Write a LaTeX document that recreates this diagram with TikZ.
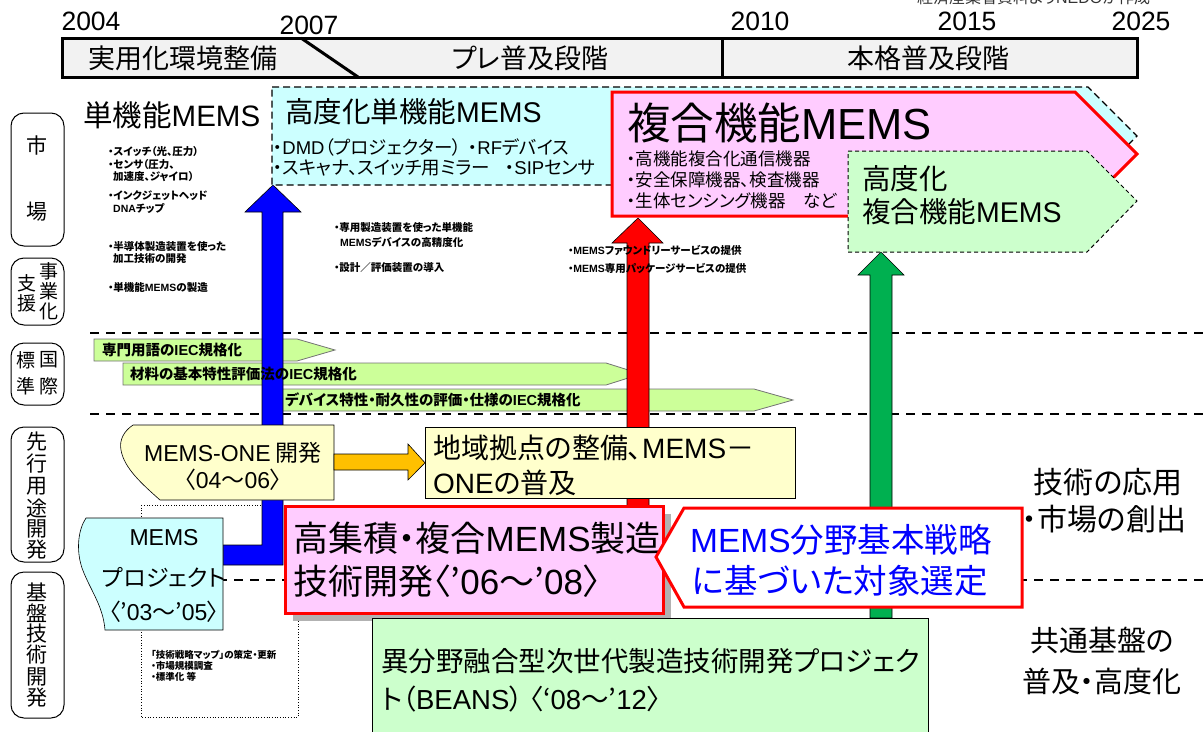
\documentclass[tikz,border=0pt]{standalone}
\usepackage{fontspec}
\setmainfont{Noto Sans CJK JP}[RawFeature=+palt]
\newfontfamily\lat{Liberation Sans}
\newcommand\A[1]{{\lat #1}}
\newcommand\fsz[1]{\fontsize{#1}{#1}\selectfont}
\usetikzlibrary{calc}
\definecolor{hdrgray}{RGB}{242,242,242}
\definecolor{cyanf}{RGB}{204,255,255}
\definecolor{pinkf}{RGB}{255,204,255}
\definecolor{greenf}{RGB}{204,255,204}
\definecolor{iecf}{RGB}{204,255,153}
\definecolor{yellowf}{RGB}{255,255,204}
\definecolor{orangef}{RGB}{255,192,0}
\definecolor{arrgreen}{RGB}{0,176,80}
\definecolor{shadowg}{RGB}{178,178,178}
\begin{document}
\begin{tikzpicture}[x=1pt,y=-1pt,
  t/.style={inner sep=0pt, anchor=west},
  tc/.style={inner sep=0pt},
  sepline/.style={line width=2pt, dash pattern=on 9pt off 7pt},
  lab/.style={draw, line width=1pt, rounded corners=13pt, minimum width=53pt, inner sep=0pt},
  blk/.style={draw=black, line width=0.6pt},
  iec/.style={fill=iecf, draw=black!55, line width=0.8pt},
  small/.style={t, font=\bfseries\fsz{10.5}},
  labch/.style={tc, font=\fsz{21}},
]
\useasboundingbox (0,0) rectangle (1204,731);

% ---------- separators ----------
\draw[sepline] (90,333) -- (1204,333);
\draw[sepline] (90,414) -- (1204,414);
\draw[sepline] (90,580) -- (1204,580);

% dotted frame
\draw[dotted, line width=0.7pt] (141,505) rectangle (298,717);

% ---------- IEC arrows (shapes) ----------
\draw[iec] (94,339) -- (297,339) -- (335,350) -- (297,361) -- (94,361) -- cycle;
\draw[iec] (123,363) -- (606,363) -- (641,374) -- (606,385) -- (123,385) -- cycle;
\draw[iec] (275,389) -- (754,389) -- (793,400) -- (754,411) -- (275,411) -- cycle;

% ---------- vertical arrows ----------
\draw[blk, fill=blue] (223,545) -- (262,545) -- (262,212) -- (245,212) -- (273,185) -- (301,212) -- (283,212) -- (283,565) -- (223,565) -- cycle;
\draw[blk, fill=red] (627,510) -- (627,243) -- (612,243) -- (638,218) -- (663,243) -- (649,243) -- (649,510) -- cycle;
\draw[blk, fill=arrgreen] (870,618) -- (870,275) -- (858,275) -- (881,252) -- (904,275) -- (892,275) -- (892,618) -- cycle;

% ---------- IEC texts ----------
\node[t, font=\bfseries\fsz{14.5}] (iec1) at (102,350) {専門用語の\A{IEC}規格化};
\node[t, font=\bfseries\fsz{14.5}] (iec2) at (130,374) {材料の基本特性評価法の\A{IEC}規格化};
\node[t, font=\bfseries\fsz{14.5}] (iec3) at (285,400) {デバイス特性・耐久性の評価・仕様の\A{IEC}規格化};

% ---------- market boxes ----------
\draw[fill=cyanf, line width=1.2pt, dash pattern=on 7pt off 4pt] (272,87) -- (1088,87) -- (1137,136) -- (1088,185) -- (272,185) -- cycle;
\node[t, font=\fsz{28.5}] (cyT) at (285,112) {高度化単機能\A{MEMS}};
\node[t, font=\fsz{18.5}] (cy1) at (273,147) {・\A{DMD}（プロジェクター）};
\node[t, font=\fsz{18.5}] (cy2) at (468,147) {・\A{RF}デバイス};
\node[t, font=\fsz{18.5}] (cy3) at (273,168) {・スキャナ、スイッチ用ミラー};
\node[t, font=\fsz{18.5}] (cy4) at (505,168) {・\A{SIP}センサ};

\draw[fill=pinkf, draw=red, line width=3pt] (612,92) -- (1075,92) -- (1137,154) -- (1075,216) -- (612,216) -- cycle;
\node[t, font=\fsz{43.5}] (pkT) at (627,123) {複合機能\A{MEMS}};
\node[t, font=\fsz{17.5}] (pk1) at (627,159) {・高機能複合化通信機器};
\node[t, font=\fsz{17.5}] (pk2) at (627,180) {・安全保障機器、検査機器};
\node[t, font=\fsz{17.5}] (pk3) at (627,201) {・生体センシング機器　など};

\draw[fill=greenf, line width=1pt, dash pattern=on 4pt off 3pt] (848,151) -- (1087,151) -- (1137,201) -- (1087,252) -- (848,252) -- cycle;
\node[t, font=\fsz{28.5}] (gr1) at (862,179) {高度化};
\node[t, font=\fsz{28.5}] (gr2) at (862,212) {複合機能\A{MEMS}};

\node[t, font=\fsz{29.5}] (tanki) at (83,115) {単機能\A{MEMS}};

% ---------- process row ----------
\draw[fill=yellowf, line width=0.6pt] (133,425) -- (334,425) -- (334,500) -- (160,500) .. controls (142,484) and (124,468) .. (121,450) .. controls (119,440) and (124,431) .. (133,425) -- cycle;
\coordinate (oneE) at (334,462);
\node[tc, font=\fsz{23}] (one1) at (233,453) {\A{MEMS-ONE} 開発};
\node[tc, font=\fsz{23}] (one2) at (233,480) {〈\A{04}～\A{06}〉};
\node[draw, fill=yellowf, line width=0.6pt, anchor=north west, minimum width=370pt, minimum height=71pt, inner sep=0pt] (chiiki) at (425,427) {};
\draw[blk, fill=orangef] ($(oneE)+(0,-8)$) -- ++(74,0) -- ++(0,-10) -- (chiiki.west) -- ($(oneE)+(74,18)$) -- ++(0,-10) -- ++(-74,0) -- cycle;
\node[t, font=\fsz{28}] (ch1) at (433,448) {地域拠点の整備、\A{MEMS}－};
\node[t, font=\fsz{28}] (ch2) at (433,483) {\A{ONE}の普及};

\draw[fill=cyanf, line width=0.6pt] (86,518) -- (223,518) -- (223,630) -- (105,630) .. controls (103,605) and (90,590) .. (82,568) .. controls (76,550) and (78,530) .. (86,518) -- cycle;
\node[tc, font=\fsz{23}] (mp1) at (164,538) {\A{MEMS}};
\node[tc, font=\fsz{23}] (mp2) at (164,577) {プロジェクト};
\node[tc, font=\fsz{23}] (mp3) at (164,612) {〈’\A{03}～’\A{05}〉};

\fill[shadowg] (293,514) rectangle (671,621);
\node[draw=red, line width=3pt, fill=pinkf, anchor=north west, minimum width=378pt, minimum height=107pt, inner sep=0pt] (koshu) at (284,505) {};
\node[t, font=\fsz{35}] (ko1) at (293,538) {高集積・複合\A{MEMS}製造};
\node[t, font=\fsz{35}] (ko2) at (293,581) {技術開発〈’\A{06}～’\A{08}〉};

\draw[fill=white, draw=red, line width=3pt] (684,508) -- (1022,508) -- (1022,607) -- (684,607) -- (656,557) -- cycle;
\node[t, font=\fsz{33.5}, text=blue] (cl1) at (690,540) {\A{MEMS}分野基本戦略};
\node[t, font=\fsz{33.5}, text=blue] (cl2) at (692,581) {に基づいた対象選定};

\draw[fill=greenf, line width=0.8pt] (372,618) rectangle (928,740);
\node[t, font=\fsz{27.5}] (be1) at (381,661) {異分野融合型次世代製造技術開発プロジェク};
\node[t, font=\fsz{27.5}] (be2) at (381,699) {ト（\A{BEANS}） 〈‘\A{08}～’\A{12}〉};

% ---------- small texts ----------
\node[small] (s1) at (108,152) {・スイッチ（光、圧力）};
\node[small] (s2) at (108,165) {・センサ（圧力、};
\node[small] (s3) at (113,177) {加速度、ジャイロ）};
\node[small] (s4) at (108,196) {・インクジェットヘッド};
\node[small] (s5) at (113,208) {\A{DNA}チップ};
\node[small] (s6) at (108,247) {・半導体製造装置を使った};
\node[small] (s7) at (113,259) {加工技術の開発};
\node[small] (s8) at (108,287) {・単機能\A{MEMS}の製造};
\node[small] (s9) at (334,228) {・専用製造装置を使った単機能};
\node[small] (s10) at (340,242) {\A{MEMS}デバイスの高精度化};
\node[small] (s11) at (334,268) {・設計／評価装置の導入};
\node[small] (s12) at (568,250) {・\A{MEMS}ファウンドリーサービスの提供};
\node[small] (s13) at (568,268) {・\A{MEMS}専用パッケージサービスの提供};
\node[t, font=\bfseries\fsz{9.5}] (d1) at (151,655) {「技術戦略マップ」の策定・更新};
\node[t, font=\bfseries\fsz{9.5}] (d2) at (151,666) {・市場規模調査};
\node[t, font=\bfseries\fsz{9.5}] (d3) at (151,677) {・標準化 等};

% ---------- right labels ----------
\node[tc, font=\fsz{30}] (r1) at (1108,482) {技術の応用};
\node[t, font=\fsz{30}] (r2) at (1022,519) {・市場の創出};
\node[tc, font=\fsz{29}] (r3) at (1102,640) {共通基盤の};
\node[t, font=\fsz{29}] (r4) at (1022,681) {普及・高度化};

% ---------- header ----------
\node[inner sep=0pt, anchor=base west, font=\fsz{16}, text=black!80] (src) at (917,3) {経済産業省資料より\A{NEDO}が作成};
\node[tc, font=\lat\fsz{26.5}] (y1) at (91,21) {2004};
\node[tc, font=\lat\fsz{26.5}] (y2) at (309,25) {2007};
\node[tc, font=\lat\fsz{26.5}] (y3) at (760,21) {2010};
\node[tc, font=\lat\fsz{26.5}] (y4) at (967,21) {2015};
\node[tc, font=\lat\fsz{26.5}] (y5) at (1141,21) {2025};
\draw[line width=3pt, fill=hdrgray] (62,38) rectangle (1137,77);
\draw[line width=3pt] (301,38) -- (358,77);
\draw[line width=3pt] (722,38) -- (722,77);
\node[tc, font=\fsz{27}] (ph1) at (183,58) {実用化環境整備};
\node[tc, font=\fsz{27}] (ph2) at (530,58) {プレ普及段階};
\node[tc, font=\fsz{27}] (ph3) at (928,58) {本格普及段階};

% ---------- left labels ----------
\node[lab, minimum height=133pt] (L1) at (37.5,179.5) {};
\node[labch] at (37.5,145) {市};
\node[labch] at (37.5,212) {場};
\node[lab, minimum height=67pt] (L2) at (37.5,291.5) {};
\node[tc, font=\fsz{19}] at (49,271) {事};
\node[tc, font=\fsz{19}] at (49,291) {業};
\node[tc, font=\fsz{19}] at (49,311) {化};
\node[tc, font=\fsz{19}] at (27,283) {支};
\node[tc, font=\fsz{19}] at (27,303) {援};
\node[lab, minimum height=62pt] (L3) at (37.5,374) {};
\node[tc, font=\fsz{19}] at (49,360) {国};
\node[tc, font=\fsz{19}] at (49,386) {際};
\node[tc, font=\fsz{19}] at (26,360) {標};
\node[tc, font=\fsz{19}] at (26,386) {準};
\node[lab, minimum height=135pt] (L4) at (37.5,494.5) {};
\node[labch] at (37.5,442) {先};
\node[labch] at (37.5,464) {行};
\node[labch] at (37.5,486) {用};
\node[labch] at (37.5,508) {途};
\node[labch] at (37.5,529) {開};
\node[labch] at (37.5,550) {発};
\node[lab, minimum height=146pt] (L5) at (37.5,645) {};
\node[labch] at (37.5,592) {基};
\node[labch] at (37.5,613) {盤};
\node[labch] at (37.5,634) {技};
\node[labch] at (37.5,655) {術};
\node[labch] at (37.5,677) {開};
\node[labch] at (37.5,698) {発};
\end{tikzpicture}
\end{document}
